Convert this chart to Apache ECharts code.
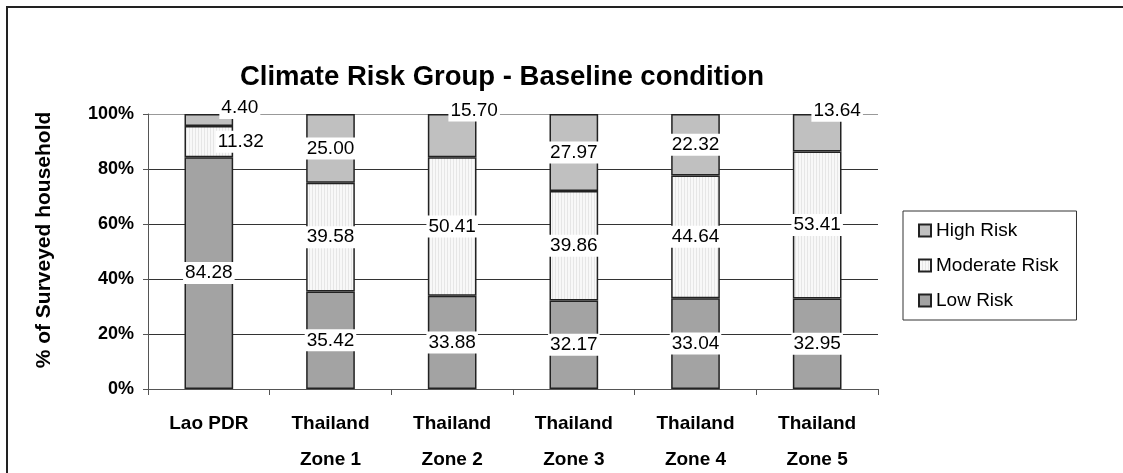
<!DOCTYPE html>
<html>
<head>
<meta charset="utf-8">
<script src="https://cdn.jsdelivr.net/npm/echarts@6/dist/echarts.min.js"></script>
<style>
  html, body { margin: 0; padding: 0; background: #fff; }
  #chart { width: 1123px; height: 473px; }
</style>
</head>
<body>
<div id="chart"></div>
<script>
// categories and values (% of surveyed household)
var categories = ['Lao PDR', 'Thailand\nZone 1', 'Thailand\nZone 2', 'Thailand\nZone 3', 'Thailand\nZone 4', 'Thailand\nZone 5'];
var lowRisk = [84.28, 35.42, 33.88, 32.17, 33.04, 32.95];
var moderateRisk = [11.32, 39.58, 50.41, 39.86, 44.64, 53.41];
var highRisk = [4.40, 25.00, 15.70, 27.97, 22.32, 13.64];
var yTicks = [0, 20, 40, 60, 80, 100];

// labels that were dragged away from the centre in the original
var labelShift = {
  'High Risk': { 0: [31, -12], 2: [22, -25], 5: [20, -22] },
  'Moderate Risk': { 0: [32, 0] }
};

// fine vertical stripes for the moderate series
function stripes() {
  var c = document.createElement('canvas');
  c.width = 3; c.height = 4;
  var ctx = c.getContext('2d');
  ctx.fillStyle = '#f8f8f8';
  ctx.fillRect(0, 0, 3, 4);
  ctx.fillStyle = '#e6e6e6';
  ctx.fillRect(0, 0, 1, 4);
  return c;
}

var chart = echarts.init(document.getElementById('chart'));

function makeSeries(name, values, color) {
  var shifts = labelShift[name] || {};
  return {
    name: name,
    type: 'bar',
    stack: 'risk',
    barWidth: '40%',
    itemStyle: { color: color, borderColor: '#222', borderWidth: 1.5 },
    label: {
      show: true,
      position: 'inside',
      color: '#000',
      fontFamily: 'Liberation Sans, Arial',
      fontSize: 19,
      backgroundColor: '#fff',
      padding: [2, 2, 1, 2],
      formatter: function (p) { return p.value.toFixed(2); }
    },
    data: values.map(function (v, i) {
      var item = { value: v };
      if (shifts[i]) item.label = { offset: shifts[i] };
      return item;
    })
  };
}

chart.setOption({
  animation: false,
  backgroundColor: '#fff',
  title: {
    text: 'Climate Risk Group - Baseline condition',
    left: 497,
    textAlign: 'center',
    top: 58,
    textStyle: { fontFamily: 'Liberation Sans, Arial', fontWeight: 'bold', fontSize: 27.5, color: '#000' }
  },
  graphic: [{
    type: 'rect',
    shape: { x: 7, y: 7, width: 1200, height: 600 },
    style: { fill: 'none', stroke: '#222', lineWidth: 2 },
    silent: true
  }, {
    type: 'text',
    x: 44,
    y: 240,
    rotation: Math.PI / 2,
    style: {
      text: '% of Surveyed household',
      align: 'center',
      verticalAlign: 'middle',
      fontFamily: 'Liberation Sans, Arial',
      fontWeight: 'bold',
      fontSize: 21,
      fill: '#000'
    },
    silent: true
  }],
  legend: {
    data: ['High Risk', 'Moderate Risk', 'Low Risk'],
    orient: 'vertical',
    left: 903,
    top: 211,
    padding: [9, 18, 9, 15],
    itemGap: 14,
    itemWidth: 12,
    itemHeight: 12,
    icon: 'rect',
    borderColor: '#333',
    borderWidth: 1,
    textStyle: { fontFamily: 'Liberation Sans, Arial', fontSize: 19, color: '#000', lineHeight: 21 }
  },
  grid: { left: 148, right: 245, top: 114, bottom: 84, containLabel: false, outerBoundsMode: 'none' },
  xAxis: {
    type: 'category',
    data: categories,
    axisLine: { lineStyle: { color: '#555', width: 1 } },
    axisTick: { show: true, length: 6, lineStyle: { color: '#555' } },
    axisLabel: {
      interval: 0,
      margin: 17,
      fontFamily: 'Liberation Sans, Arial',
      fontWeight: 'bold',
      fontSize: 19,
      lineHeight: 36,
      color: '#000'
    }
  },
  yAxis: {
    type: 'value',
    min: yTicks[0],
    max: yTicks[yTicks.length - 1],
    interval: 20,
    axisLine: { show: true, lineStyle: { color: '#555' } },
    axisTick: { show: true, length: 5, lineStyle: { color: '#555' } },
    axisLabel: {
      margin: 14,
      fontFamily: 'Liberation Sans, Arial',
      fontWeight: 'bold',
      fontSize: 18,
      color: '#000',
      formatter: function (v) { return v + '%'; }
    },
    splitLine: { lineStyle: { color: ['#333', '#333', '#333', '#333', '#333', '#999'], width: 1 } }
  },
  series: [
    makeSeries('Low Risk', lowRisk, '#a3a3a3'),
    makeSeries('Moderate Risk', moderateRisk, { image: stripes(), repeat: 'repeat' }),
    makeSeries('High Risk', highRisk, '#c0c0c0')
  ]
});
</script>
</body>
</html>
